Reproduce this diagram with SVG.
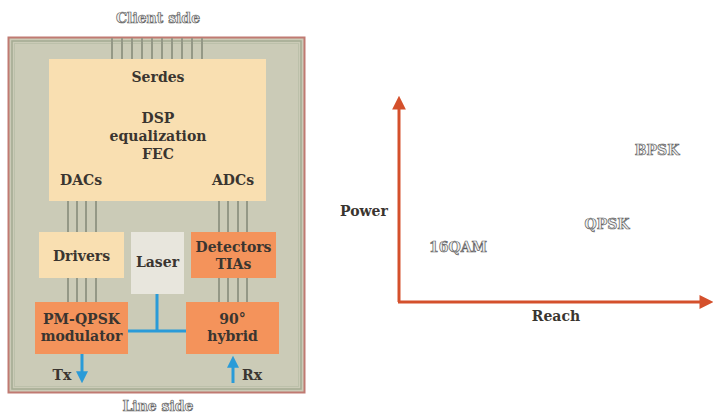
<svg xmlns="http://www.w3.org/2000/svg" width="717" height="413" viewBox="0 0 717 413">
<defs>
<style>
.t{font-family:"DejaVu Serif","Liberation Serif",serif;font-weight:bold;fill:#3a3530;text-anchor:middle}
.b{font-size:14px}
.ghost{font-family:"DejaVu Serif","Liberation Serif",serif;font-weight:bold;fill:#f0f0f0;stroke:#5e5e5e;stroke-width:0.7;text-anchor:middle;font-size:14px}
.bus{stroke:#949886;stroke-width:2;fill:none}
.blue{stroke:#2a9bd8;stroke-width:3;fill:none}
.axis{stroke:#d4502c;stroke-width:3;fill:none}
</style>
<marker id="ah" viewBox="0 0 10 10" refX="4" refY="5" markerWidth="4.6" markerHeight="4.6" orient="auto"><path d="M0,0L10,5L0,10z" fill="#d4502c"/></marker>
<marker id="bh" viewBox="0 0 10 10" refX="4" refY="5" markerWidth="4" markerHeight="4" orient="auto"><path d="M0,0L10,5L0,10z" fill="#2a9bd8"/></marker>
</defs>
<rect width="717" height="413" fill="#ffffff"/>
<text class="ghost" x="158" y="23">Client side</text>
<text class="ghost" x="158" y="411">Line side</text>
<g id="chip">
<rect x="8.5" y="37.5" width="296" height="355" fill="#cbcbb7" stroke="#c07a72" stroke-width="2"/>
<rect x="12" y="41" width="289" height="348" fill="none" stroke="#a4ab92" stroke-width="1.5"/>
<rect x="14.5" y="43.5" width="284" height="343" fill="none" stroke="#bcc0aa" stroke-width="1"/>
</g>
<g id="connectors">
<path class="bus" d="M112,38V59M122,38V59M132,38V59M142,38V59M152,38V59M162,38V59M172,38V59M182,38V59M192,38V59M202,38V59"/>
<path class="bus" d="M68,201V232M77,201V232M86,201V232M96,201V232M219,201V232M228,201V232M238,201V232M247,201V232"/>
<path class="bus" d="M68,278V302M77,278V302M86,278V302M96,278V302M219,278V302M228,278V302M238,278V302M247,278V302"/>
<path class="blue" d="M157,294V331M128,331H186"/>
<path class="blue" d="M82,354V376" marker-end="url(#bh)"/>
<path class="blue" d="M233,383V363" marker-end="url(#bh)"/>
</g>
<g id="dsp">
<rect x="49" y="59" width="217" height="142" fill="#f9dfb1"/>
<text class="t b" x="158" y="82">Serdes</text>
<text class="t b" x="158" y="123">DSP</text>
<text class="t b" x="158" y="141">equalization</text>
<text class="t b" x="158" y="159">FEC</text>
<text class="t b" x="81" y="185">DACs</text>
<text class="t b" x="233" y="185">ADCs</text>
</g>
<g id="drivers">
<rect x="39" y="232" width="85" height="46" fill="#f9dfb1"/>
<text class="t b" x="81.5" y="261">Drivers</text>
</g>
<g id="laser">
<rect x="131" y="232" width="53" height="62" fill="#e8e6dd"/>
<text class="t b" x="157.5" y="267">Laser</text>
</g>
<g id="detectors">
<rect x="191" y="232" width="85" height="46" fill="#f4935b"/>
<text class="t b" x="233.5" y="252">Detectors</text>
<text class="t b" x="233.5" y="269">TIAs</text>
</g>
<g id="modulator">
<rect x="35" y="302" width="93" height="52" fill="#f4935b"/>
<text class="t b" x="81.5" y="324">PM-QPSK</text>
<text class="t b" x="81.5" y="341">modulator</text>
</g>
<g id="hybrid">
<rect x="186" y="302" width="93" height="52" fill="#f4935b"/>
<text class="t b" x="232.5" y="324">90°</text>
<text class="t b" x="232.5" y="341">hybrid</text>
</g>
<text class="t b" x="62" y="380">Tx</text>
<text class="t b" x="252" y="380">Rx</text>
<g id="chart">
<path class="axis" d="M399,302V104" marker-end="url(#ah)"/>
<path class="axis" d="M398,302H705" marker-end="url(#ah)"/>
<text class="t b" x="364" y="216">Power</text>
<text class="t b" x="556" y="321">Reach</text>
<text class="ghost" x="458" y="252">16QAM</text>
<text class="ghost" x="607" y="229">QPSK</text>
<text class="ghost" x="657" y="155">BPSK</text>
</g>
</svg>
